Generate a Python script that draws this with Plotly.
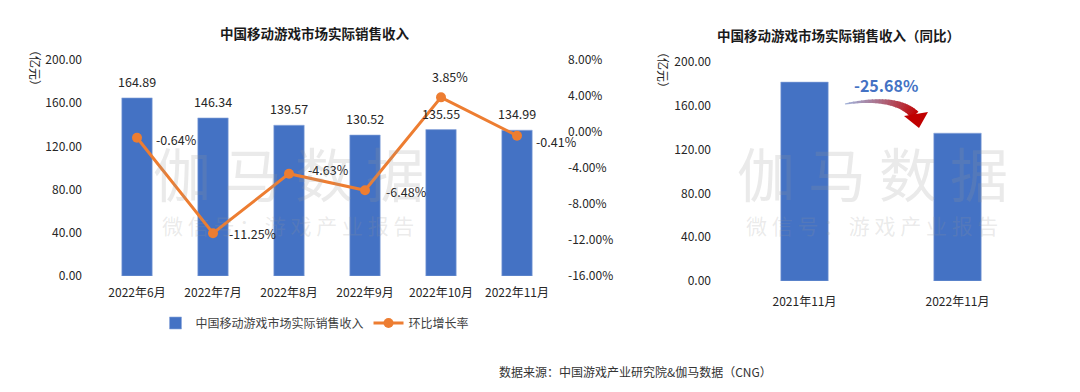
import plotly.graph_objects as go

W, H = 1080, 392

# ---------------- data ----------------
months = ["2022年6月", "2022年7月", "2022年8月", "2022年9月", "2022年10月", "2022年11月"]
revenue = [164.89, 146.34, 139.57, 130.52, 135.55, 134.99]          # 亿元
mom_growth = [-0.64, -11.25, -4.63, -6.48, 3.85, -0.41]             # %
yoy_periods = ["2021年11月", "2022年11月"]
yoy_revenue = [181.63, 134.99]                                      # 亿元
yoy_change = -25.68                                                 # %
left_ticks = [0, 40, 80, 120, 160, 200]
right_ticks = [-16, -12, -8, -4, 0, 4, 8]

title_left = "中国移动游戏市场实际销售收入"
title_right = "中国移动游戏市场实际销售收入（同比）"
bar_name = "中国移动游戏市场实际销售收入"
line_name = "环比增长率"
unit_label = "（亿元）"
source_text = "数据来源：中国游戏产业研究院&伽马数据（CNG）"
wm_main = "伽 马 数 据"
wm_sub = "微 信 号 ： 游 戏 产 业 报 告"

# ---------------- style ----------------
FONT = "Noto Sans CJK SC, Open Sans, sans-serif"
BLUE = "#4472C4"
ORANGE = "#ED7D31"
TXT = "#262626"


def px(x):
    return x / W


def py(y):
    return 1 - y / H


def paper_note(x, y, text, size, color=TXT, xanchor="center", angle=0):
    return dict(x=px(x), y=py(y), xref="paper", yref="paper", text=text,
                showarrow=False, xanchor=xanchor, yanchor="middle", textangle=angle,
                font=dict(size=size, color=color, family=FONT))


# label offsets for line points (xshift, yshift, xanchor) -- style only
line_label_style = [(17, -2, "left"), (14, 0, "left"), (17, 4, "left"),
                    (19, -1, "left"), (9, 21, "center"), (17, -6, "left")]

fig = go.Figure()

fig.add_trace(go.Bar(
    x=months, y=revenue, name=bar_name, width=0.4,
    marker=dict(color=BLUE, line=dict(color="#8FAADC", width=0.6)),
    xaxis="x", yaxis="y",
))
fig.add_trace(go.Scatter(
    x=months, y=mom_growth, name=line_name, mode="lines+markers",
    line=dict(color=ORANGE, width=3), marker=dict(color=ORANGE, size=10),
    xaxis="x", yaxis="y2",
))
fig.add_trace(go.Bar(
    x=yoy_periods, y=yoy_revenue, showlegend=False, width=0.31,
    marker=dict(color=BLUE, line=dict(color="#8FAADC", width=0.6)),
    xaxis="x3", yaxis="y3",
))

annotations = []
# bar value labels
for m, v in zip(months, revenue):
    annotations.append(dict(x=m, y=v, xref="x", yref="y", text=f"{v:.2f}",
                            showarrow=False, xanchor="center", yanchor="bottom", yshift=5,
                            font=dict(size=12.5, color=TXT, family=FONT)))
# line value labels
for m, g, (xs, ys, xa) in zip(months, mom_growth, line_label_style):
    annotations.append(dict(x=m, y=g, xref="x", yref="y2", text=f"{g:.2f}%",
                            showarrow=False, xanchor=xa, yanchor="middle",
                            xshift=xs, yshift=ys,
                            font=dict(size=12.5, color=TXT, family=FONT)))

# watermarks
for cx in (288, 872):
    annotations.append(paper_note(cx, 172, wm_main, 58, "rgba(150,150,150,0.2)"))
    annotations.append(paper_note(cx, 225, wm_sub, 21, "rgba(150,150,150,0.2)"))

# titles
annotations.append(paper_note(315, 33, f"<b>{title_left}</b>", 13.5, "#1a1a1a"))
annotations.append(paper_note(838, 35, f"<b>{title_right}</b>", 13.5, "#1a1a1a"))
# unit labels
annotations.append(paper_note(35, 68, unit_label, 12, angle=90))
annotations.append(paper_note(664, 70, unit_label, 12, angle=90))
# yoy change label
annotations.append(paper_note(886, 85, f"<b>{yoy_change:.2f}%</b>", 16, BLUE))
# source
annotations.append(paper_note(497, 371, source_text, 12, "#333333", xanchor="left"))

# ---------------- gradient curved arrow (decoration) ----------------
shapes = []
P0, P1, P2 = (845, 104), (896, 95), (915, 115)
N = 24
c0, c1 = (160, 178, 218), (192, 0, 0)


def bez(t):
    x = (1 - t) ** 2 * P0[0] + 2 * (1 - t) * t * P1[0] + t ** 2 * P2[0]
    y = (1 - t) ** 2 * P0[1] + 2 * (1 - t) * t * P1[1] + t ** 2 * P2[1]
    return x, y


def tang(t):
    dx = 2 * (1 - t) * (P1[0] - P0[0]) + 2 * t * (P2[0] - P1[0])
    dy = 2 * (1 - t) * (P1[1] - P0[1]) + 2 * t * (P2[1] - P1[1])
    n = (dx * dx + dy * dy) ** 0.5
    return dx / n, dy / n


def edge(t):
    x, y = bez(t)
    tx, ty = tang(t)
    w = 0.6 + 4.2 * t
    nx, ny = -ty, tx
    return (x + nx * w, y + ny * w), (x - nx * w, y - ny * w)


for i in range(N):
    t0, t1 = i / N, (i + 1) / N
    a0, b0 = edge(t0)
    a1, b1 = edge(t1 + 0.01 if i < N - 1 else t1)
    f = (t0 + t1) / 2
    col = tuple(int(c0[k] + (c1[k] - c0[k]) * f) for k in range(3))
    path = (f"M {px(a0[0])},{py(a0[1])} L {px(a1[0])},{py(a1[1])} "
            f"L {px(b1[0])},{py(b1[1])} L {px(b0[0])},{py(b0[1])} Z")
    shapes.append(dict(type="path", xref="paper", yref="paper", path=path,
                       fillcolor=f"rgb{col}", line=dict(width=0)))
head = [(904, 116), (928, 112), (919, 128)]
shapes.append(dict(type="path", xref="paper", yref="paper",
                   path="M " + " L ".join(f"{px(x)},{py(y)}" for x, y in head) + " Z",
                   fillcolor="rgb(192,0,0)", line=dict(width=0)))

axis_font = dict(size=12, color=TXT, family=FONT)
common = dict(showgrid=False, zeroline=False, showline=False, automargin=False, ticks="")

fig.update_layout(
    template="none",
    width=W, height=H,
    margin=dict(l=0, r=0, t=0, b=0, pad=0),
    paper_bgcolor="white", plot_bgcolor="white",
    font=dict(family=FONT, color=TXT),
    showlegend=True,
    legend=dict(orientation="h", x=px(315), y=py(323), xanchor="center", yanchor="middle",
                font=dict(size=12, color="#404040", family=FONT), traceorder="normal",
                itemwidth=30, bgcolor="rgba(0,0,0,0)"),
    xaxis=dict(domain=[px(99), px(555)], anchor="y", range=[-0.5, len(months) - 0.5],
               tickfont=axis_font, ticklabelstandoff=8, **common),
    yaxis=dict(domain=[py(276), py(60)], anchor="x", range=[0, 200], tickvals=left_ticks,
               ticktext=[f"{v:.2f}" for v in left_ticks],
               tickfont=axis_font, ticklabelstandoff=16, **common),
    yaxis2=dict(overlaying="y", side="right", anchor="x", range=[-16, 8],
                tickvals=right_ticks, ticktext=[f"{v:.2f}%" for v in right_ticks],
                tickfont=axis_font, ticklabelstandoff=12, **common),
    xaxis3=dict(domain=[px(728), px(1034)], anchor="y3", range=[-0.5, len(yoy_periods) - 0.5],
                tickfont=axis_font, ticklabelstandoff=12, **common),
    yaxis3=dict(domain=[py(281), py(62)], anchor="x3", range=[0, 200], tickvals=left_ticks,
                ticktext=[f"{v:.2f}" for v in left_ticks],
                tickfont=axis_font, ticklabelstandoff=16, **common),
    annotations=annotations,
    shapes=shapes,
)

fig.write_html("out.html", config={"displayModeBar": False},
               post_script="document.body.style.margin='0px';document.body.style.padding='0px';")
